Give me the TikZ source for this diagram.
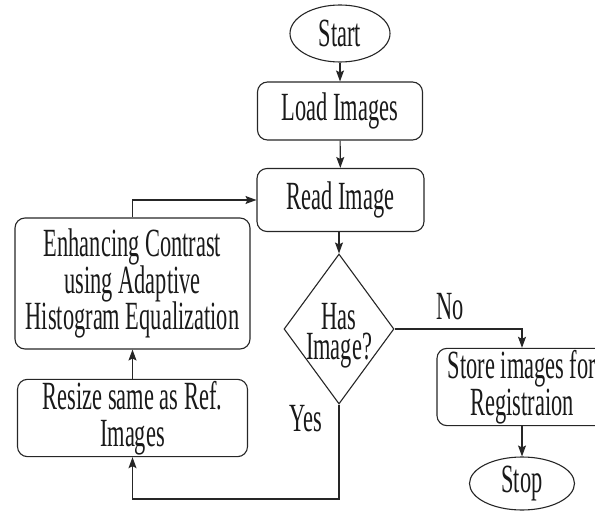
\documentclass[tikz,border=0pt]{standalone}
\usepackage{fontspec}
\setmainfont[FakeStretch=0.56]{Liberation Serif}
\usetikzlibrary{shapes.geometric,arrows.meta}
\begin{document}
\begin{tikzpicture}[x=1pt,y=-1pt, line width=1.1pt, draw=black!85,
  every node/.style={font=\fontsize{40}{36.5}\selectfont, text=black!90},
  box/.style={draw=black!85, rounded corners=10pt, align=center, inner sep=2pt},
  term/.style={draw=black!85, ellipse, inner sep=0pt},
  lbl/.style={inner sep=0pt},
  arr/.style={-{Stealth[length=11pt,width=8pt,inset=2pt]}}]
\clip (0,0) rectangle (595,511);
\node[term, minimum width=100pt, minimum height=57pt] (start) at (340,33.5) {Start};
\node[box, minimum width=165pt, minimum height=58pt] (load) at (340,111) {Load Images};
\node[box, minimum width=167pt, minimum height=63pt] (read) at (340.5,200) {Read Image};
\node[draw=black!85, diamond, minimum width=110pt, minimum height=150pt, inner sep=0pt] (dec) at (339,329) {};
\node[lbl, align=center, font=\fontsize{40}{30}\selectfont] (dect) at (339,336) {Has\\Image?};
\node[box, minimum width=170pt, minimum height=76pt] (store) at (522,387) {Store images for\\Registraion};
\node[term, minimum width=105pt, minimum height=53pt] (stop) at (522,483.5) {Stop};
\node[box, minimum width=235pt, minimum height=131pt] (enh) at (132.5,283.5) {Enhancing Contrast\\using Adaptive\\Histogram Equalization};
\node[box, minimum width=230pt, minimum height=72pt] (resize) at (132.5,418) {Resize same as Ref.\\Images};
\node[lbl] (lno) at (450,307) {No};
\node[lbl] (lyes) at (306,419) {Yes};
\coordinate (ybot) at (0,499);
\draw[arr] (start) -- (load);
\draw[arr] (load) -- (read);
\draw[arr] (read.south -| dec.north) -- (dec.north);
\draw[arr] (dec.east) -| (store.north);
\draw[arr] (store.south) -- (store.south |- stop.north);
\draw[arr] (dec.south) |- (ybot -| resize.south) -- (resize.south);
\draw[arr] (resize.north) -- (resize.north |- enh.south);
\draw[arr] (enh.north) |- (read.west);
\end{tikzpicture}
\end{document}
